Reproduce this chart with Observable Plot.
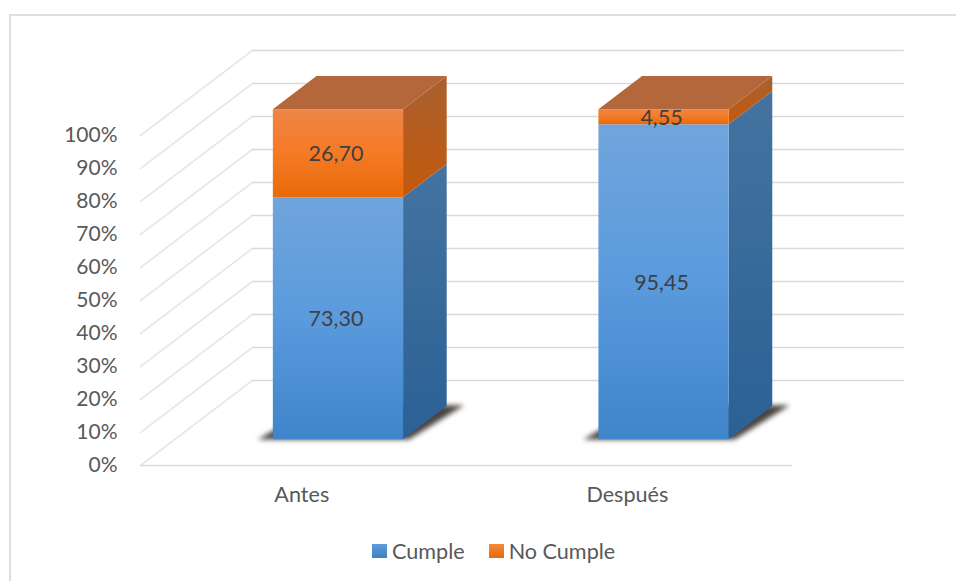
<!DOCTYPE html>
<html lang="es">
<head>
<meta charset="utf-8">
<script src="https://cdn.jsdelivr.net/npm/d3@7"></script>
<script src="https://cdn.jsdelivr.net/npm/@observablehq/plot@0.6"></script>
<style>
  html, body { margin: 0; padding: 0; background: #fff; }
  #page { position: relative; width: 956px; height: 581px; overflow: hidden; font-family: Lato, "Open Sans", sans-serif; }
  #frame { position: absolute; left: 9px; top: 14px; right: -4px; bottom: -4px; border: 2px solid #dedede; pointer-events: none; }
  #chart svg { display: block; background: transparent; }
  #legend { position: absolute; left: 372px; top: 536px; height: 30px; display: flex; align-items: center; font-size: 21.6px; color: #595959; }
  #legend i { display: inline-block; width: 15px; height: 14px; margin-right: 5px; }
  #legend span { margin-right: 24px; }
</style>
</head>
<body>
<div id="page">
  <div id="frame"></div>
  <div id="chart"></div>
  <div id="legend"></div>
</div>
<script>
// Stacked percentage columns drawn in an oblique 3D view
const categories = ["Antes", "Después"];
const cumple = [73.30, 95.45];
const noCumple = [26.70, 4.55];
const seriesNames = ["Cumple", "No Cumple"];
const yTicks = [0, 10, 20, 30, 40, 50, 60, 70, 80, 90, 100];

// Oblique view: how far the back wall shifts in x (category units) and y (percent)
const wallShiftX = 0.3436;
const wallShiftY = 25.76;
const barWidth = 0.4;
const barNear = 0.31;
const barFar = 0.70;

const at = (x, v, z) => ({x: x + z * wallShiftX, y: v + z * wallShiftY});
const wallLine = (v) => [at(0, v, 0), at(0, v, 1), at(2, v, 1)];

const gridLines = yTicks.map(wallLine);
const floorFront = [at(0, 0, 0), at(2, 0, 0)];

const marks = [];

// Colour ramps for the faces
marks.push(() => {
  const defs = d3.create("svg:defs");
  const ramp = (id, stops) => {
    const g = defs.append("linearGradient").attr("id", id)
      .attr("x1", 0).attr("y1", 0).attr("x2", 0).attr("y2", 1);
    stops.forEach(([o, c]) => g.append("stop").attr("offset", o).attr("stop-color", c));
  };
  ramp("blueFront", [[0, "#70a5dc"], [0.5, "#5a9add"], [1, "#3f85ca"]]);
  ramp("orangeFront", [[0, "#ee8547"], [0.5, "#f57a25"], [1, "#e86a08"]]);
  ramp("blueSide", [[0, "#44739f"], [1, "#2b6196"]]);
  ramp("orangeSide", [[0, "#a9602f"], [1, "#c3590c"]]);
  return defs.node();
});

// Wall grid and the diagonal floor-to-wall rulings
for (const g of gridLines) {
  marks.push(Plot.line(g.slice(0, 2), {x: "x", y: "y", stroke: "#e8e8e8", strokeWidth: 1.8, imageFilter: "blur(0.7px)"}));
  marks.push(Plot.line(g.slice(1), {x: "x", y: "y", stroke: "#d9d9d9", strokeWidth: 1.3}));
}
marks.push(Plot.line(floorFront, {x: "x", y: "y", stroke: "#dcdcdc", strokeWidth: 1.3}));

categories.forEach((name, i) => {
  const left = i + 0.5 - barWidth / 2;
  const right = left + barWidth;
  const polygon = (points, fill, extra = {}) =>
    marks.push(Plot.line(points, {x: "x", y: "y", fill, stroke: "none", ...extra}));

  // Contact shadow on the floor
  polygon([
    at(left - 0.045, 0, barNear - 0.005),
    at(right + 0.02, 0, barNear - 0.005),
    at(right + 0.05, 0, barFar + 0.01),
    at(left, 0, barFar + 0.01)
  ], "#4a4440", {imageFilter: "blur(2.5px)"});

  const segments = [
    {from: 0, to: cumple[i], front: "url(#blueFront)", side: "url(#blueSide)"},
    {from: cumple[i], to: cumple[i] + noCumple[i], front: "url(#orangeFront)", side: "url(#orangeSide)"}
  ];
  for (const s of segments) {
    polygon([at(right, s.from, barNear), at(right, s.from, barFar), at(right, s.to, barFar), at(right, s.to, barNear)], s.side);
    polygon([at(left, s.from, barNear), at(right, s.from, barNear), at(right, s.to, barNear), at(left, s.to, barNear)], s.front);
  }
  // Roof of the column
  const top = cumple[i] + noCumple[i];
  polygon([at(left, top, barNear), at(right, top, barNear), at(right, top, barFar), at(left, top, barFar)], "#b4673a");

  // Value labels, centred on the front face
  const labels = [
    {...at(i + 0.5, cumple[i] / 2, barNear), value: cumple[i]},
    {...at(i + 0.5, cumple[i] + noCumple[i] / 2, barNear), value: noCumple[i]}
  ];
  marks.push(Plot.text(labels, {
    x: "x", y: "y", dx: -2, dy: 1,
    text: (d) => d.value.toFixed(2).replace(".", ","),
    fontSize: 21.5, fill: "#404040"
  }));
});

const chart = Plot.plot({
  width: 956,
  height: 530,
  marginLeft: 140,
  marginRight: 53,
  marginTop: 50,
  marginBottom: 65,
  style: {fontFamily: "Lato, 'Open Sans', sans-serif", background: "transparent"},
  x: {domain: [0, 2 + wallShiftX], axis: null},
  y: {domain: [0, 100 + wallShiftY], axis: null},
  marks: [
    ...marks,
    Plot.axisY({
      ticks: yTicks, tickFormat: (d) => d + "%", tickSize: 0, tickPadding: 23,
      fontSize: 21, label: null, color: "#595959"
    }),
    Plot.axisX({
      ticks: [0.5, 1.5], tickFormat: (d) => categories[d - 0.5], tickSize: 0, tickPadding: 21,
      fontSize: 21.6, dx: -1.5, label: null, color: "#595959"
    })
  ]
});
document.getElementById("chart").append(chart);

// Legend under the plot
const legend = d3.select("#legend");
seriesNames.forEach((name, i) => {
  legend.append("i").style("background", i === 0
    ? "linear-gradient(#5f9bd8, #3f80c4)"
    : "linear-gradient(#f58a3c, #e8690a)");
  legend.append("span").text(name);
});
</script>
</body>
</html>
